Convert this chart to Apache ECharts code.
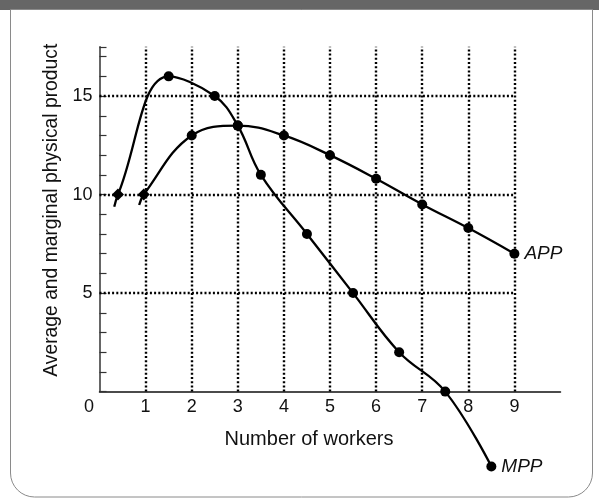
<!DOCTYPE html>
<html>
<head>
<meta charset="utf-8">
<script src="https://cdn.jsdelivr.net/npm/echarts@6/dist/echarts.min.js"></script>
<style>
html,body{margin:0;padding:0;background:#fff;}
#chart{width:599px;height:498px;}
</style>
</head>
<body>
<div id="chart"></div>
<script>
// ---- data ----
const xTickLabels = [0, 1, 2, 3, 4, 5, 6, 7, 8, 9];
const yTickLabels = [5, 10, 15];
const xGridLines = [1, 2, 3, 4, 5, 6, 7, 8, 9];
const yGridLines = [5, 10, 15];

// MPP: first item = start of the drawn curve (no marker), second = diamond point
const mppX = [0.32, 0.4, 1.5, 2.5, 3, 3.5, 4.5, 5.5, 6.5, 7.5, 8.5];
const mppY = [9.38, 10, 16, 15, 13.5, 11, 8, 5, 2, 0, -3.8];
// APP
const appX = [0.86, 0.96, 2, 3, 4, 5, 6, 7, 8, 9];
const appY = [9.47, 10, 13, 13.5, 13, 12, 10.8, 9.5, 8.3, 7];

const xName = 'Number of workers';
const yName = 'Average and marginal physical product';
const mppName = 'MPP';
const appName = 'APP';

const FONT = "'Liberation Sans', Arial, Helvetica, sans-serif";
const X_MAX = 10, Y_MAX = 17.5;

function buildCurve(xs, ys, label) {
  return xs.map((x, i) => {
    const item = { value: [x, ys[i]] };
    if (i === 0) item.symbol = 'none';
    else if (i === 1) { item.symbol = 'diamond'; item.symbolSize = 12; }
    if (i === xs.length - 1) {
      item.label = {
        show: true, position: 'right', distance: 5, formatter: label,
        fontFamily: FONT, fontSize: 19, fontStyle: 'italic', color: '#111'
      };
    }
    return item;
  });
}

const gridMarks = [];
xGridLines.forEach(x => gridMarks.push([{ coord: [x, 0] }, { coord: [x, Y_MAX] }]));
yGridLines.forEach(y => gridMarks.push([{ coord: [0, y] }, { coord: [9, y] }]));

const chart = echarts.init(document.getElementById('chart'), null, { renderer: 'canvas' });

const option = {
  animation: false,
  backgroundColor: '#fff',
  graphic: [
    { type: 'rect', shape: { x: 0, y: 0, width: 599, height: 10 }, style: { fill: '#666' }, z: 0 },
    { type: 'rect', shape: { x: 10.5, y: 9.5, width: 582, height: 487.5, r: [0, 0, 24, 24] },
      style: { fill: 'none', stroke: '#8a8a8a', lineWidth: 1 }, z: 0 }
  ],
  grid: { left: 99.5, top: 46.8, width: 461, height: 344.8, containLabel: false },
  xAxis: {
    type: 'value', min: 0, max: X_MAX, interval: 1,
    name: xName, nameLocation: 'middle', nameGap: 38,
    nameTextStyle: { fontFamily: FONT, fontSize: 20, color: '#111', padding: [0, 42, 0, 0] },
    axisLine: { show: true, onZero: false, lineStyle: { color: '#111', width: 1.5 } },
    axisTick: { show: false },
    splitLine: { show: false },
    axisLabel: {
      margin: 6, fontFamily: FONT, fontSize: 18, color: '#111',
      showMaxLabel: true, showMinLabel: true,
      formatter: v => xTickLabels.includes(v) ? (v === 0 ? '{z|0}' : String(v)) : '',
      rich: { z: { fontFamily: FONT, fontSize: 18, color: '#111', padding: [0, 21, 0, 0] } }
    }
  },
  yAxis: {
    type: 'value', min: 0, max: Y_MAX, interval: 1,
    name: yName, nameLocation: 'middle', nameGap: 34, nameRotate: 90,
    nameTextStyle: { fontFamily: FONT, fontSize: 19.3, color: '#111', padding: [0, 0, 0, 18] },
    axisLine: { show: true, lineStyle: { color: '#333', width: 1.5 } },
    axisTick: { show: true, inside: true, length: 7, lineStyle: { color: '#333', width: 1.2 } },
    splitLine: { show: false },
    axisLabel: {
      margin: 7, fontFamily: FONT, fontSize: 18, color: '#111',
      formatter: v => yTickLabels.includes(v) ? String(v) : ''
    }
  },
  series: [
    {
      type: 'line', data: [], silent: true, z: 1,
      markLine: {
        silent: true, symbol: ['none', 'none'], animation: false,
        label: { show: false },
        lineStyle: { type: [2, 2.2], color: '#000', width: 2.4 },
        data: gridMarks
      }
    },
    {
      name: mppName, type: 'line', smooth: 0.4, clip: false, z: 3,
      symbol: 'circle', symbolSize: 10,
      lineStyle: { color: '#000', width: 2.3 },
      itemStyle: { color: '#000' },
      data: buildCurve(mppX, mppY, mppName)
    },
    {
      name: appName, type: 'line', smooth: 0.4, clip: false, z: 3,
      symbol: 'circle', symbolSize: 10,
      lineStyle: { color: '#000', width: 2.3 },
      itemStyle: { color: '#000' },
      data: buildCurve(appX, appY, appName)
    }
  ]
};
chart.setOption(option);
</script>
</body>
</html>
